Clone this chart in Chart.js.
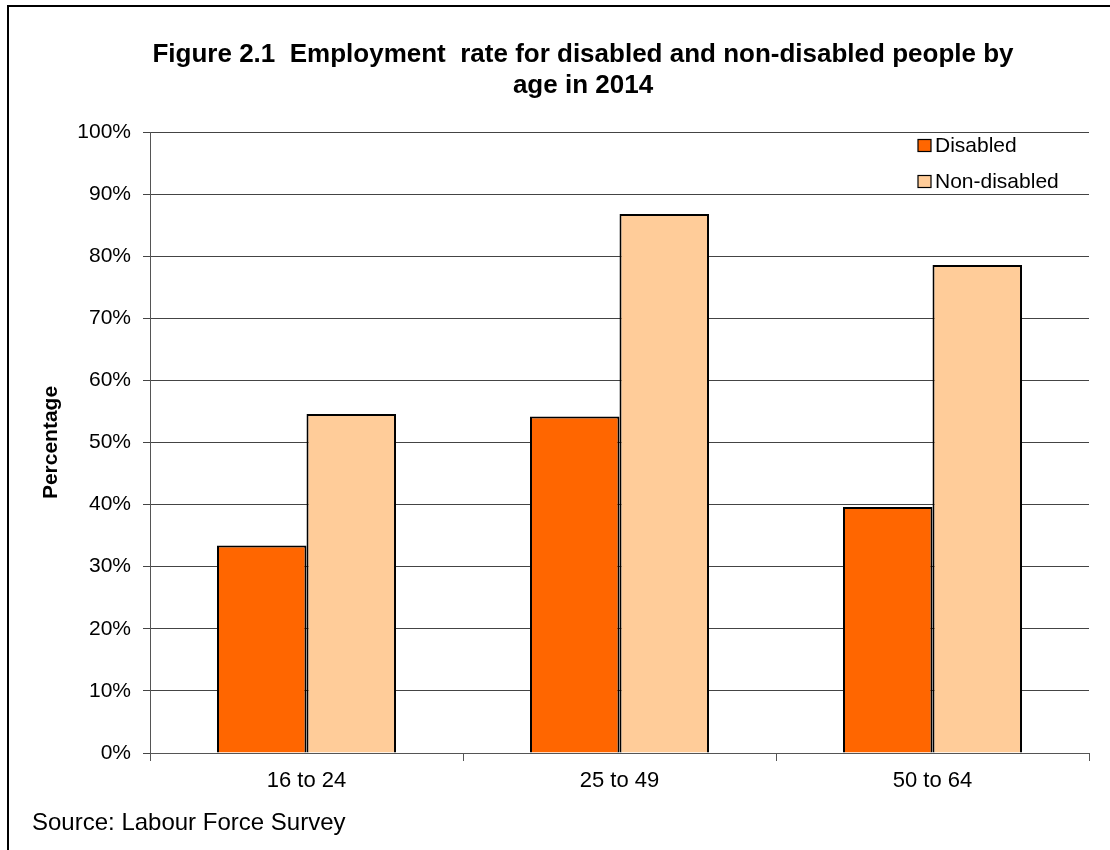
<!DOCTYPE html>
<html>
<head>
<meta charset="utf-8">
<script src="https://cdn.jsdelivr.net/npm/chart.js@4/dist/chart.umd.min.js"></script>
<style>
  html, body { margin: 0; padding: 0; background: #fff; }
  #wrap { width: 1110px; height: 850px; position: relative; }
</style>
</head>
<body>
<div id="wrap"><canvas id="c" width="1110" height="850"></canvas></div>
<script>
const categories = ['16 to 24', '25 to 49', '50 to 64'];
const disabled = [33.4, 54.2, 39.6];
const nonDisabled = [54.6, 86.8, 78.6];
const seriesNames = ['Disabled', 'Non-disabled'];
const titleLines = ['Figure 2.1  Employment  rate for disabled and non-disabled people by', 'age in 2014'];
const yAxisTitle = 'Percentage';
const sourceText = 'Source: Labour Force Survey';

const FONT = "'Liberation Sans', Arial, Helvetica, sans-serif";

const decorPlugin = {
  id: 'decor',
  afterDraw(chart) {
    const ctx = chart.ctx;
    ctx.save();
    // outer frame
    ctx.strokeStyle = '#000';
    ctx.lineWidth = 2;
    ctx.beginPath();
    ctx.moveTo(8, 850);
    ctx.lineTo(8, 6);
    ctx.lineTo(1110, 6);
    ctx.stroke();
    // title
    ctx.fillStyle = '#000';
    ctx.textAlign = 'center';
    ctx.textBaseline = 'alphabetic';
    ctx.font = 'bold 26px ' + FONT;
    ctx.fillText(titleLines[0], 583, 62);
    ctx.fillText(titleLines[1], 583, 93);
    // legend
    ctx.textAlign = 'left';
    ctx.textBaseline = 'middle';
    ctx.font = '21px ' + FONT;
    const ys = [145.5, 181.5];
    chart.data.datasets.forEach((ds, i) => {
      ctx.fillStyle = ds.backgroundColor;
      ctx.fillRect(918, ys[i] - 6, 13, 12);
      ctx.strokeStyle = '#000';
      ctx.lineWidth = 1.2;
      ctx.strokeRect(918, ys[i] - 6, 13, 12);
      ctx.fillStyle = '#000';
      ctx.fillText(ds.label, 935, ys[i] + 1);
    });
    // source
    ctx.textBaseline = 'alphabetic';
    ctx.font = '24px ' + FONT;
    ctx.fillText(sourceText, 32, 830);
    ctx.restore();
  }
};

new Chart(document.getElementById('c'), {
  type: 'bar',
  data: {
    labels: categories,
    datasets: [
      { label: seriesNames[0], data: disabled, backgroundColor: '#FF6600', borderColor: '#000', borderWidth: 2 },
      { label: seriesNames[1], data: nonDisabled, backgroundColor: '#FFCC99', borderColor: '#000', borderWidth: 2 }
    ]
  },
  options: {
    responsive: false,
    animation: false,
    events: [],
    layout: { padding: { top: 132, left: 0, right: 21, bottom: 0 } },
    datasets: { bar: { categoryPercentage: 0.572, barPercentage: 1.0 } },
    plugins: {
      legend: { display: false },
      title: { display: false },
      tooltip: { enabled: false }
    },
    scales: {
      x: {
        afterFit(scale) { scale.height = 97; },
        grid: { display: true, drawOnChartArea: false, drawTicks: true, tickLength: 8, offset: true, color: '#555' },
        border: { display: true, color: '#555', width: 1 },
        ticks: { color: '#000', font: { family: FONT, size: 22 }, padding: 7 }
      },
      y: {
        min: 0,
        max: 100,
        afterFit(scale) { scale.width = 150; },
        grid: { color: '#444', lineWidth: 1, tickLength: 7, drawTicks: true },
        border: { display: true, color: '#555', width: 1 },
        ticks: {
          stepSize: 10,
          color: '#000',
          font: { family: FONT, size: 21 },
          padding: 12,
          callback: (v) => v + '%'
        },
        title: {
          display: true,
          text: yAxisTitle,
          color: '#000',
          font: { family: FONT, size: 21, weight: 'bold' },
          padding: { top: 39, bottom: 0 }
        }
      }
    }
  },
  plugins: [decorPlugin]
});
</script>
</body>
</html>
